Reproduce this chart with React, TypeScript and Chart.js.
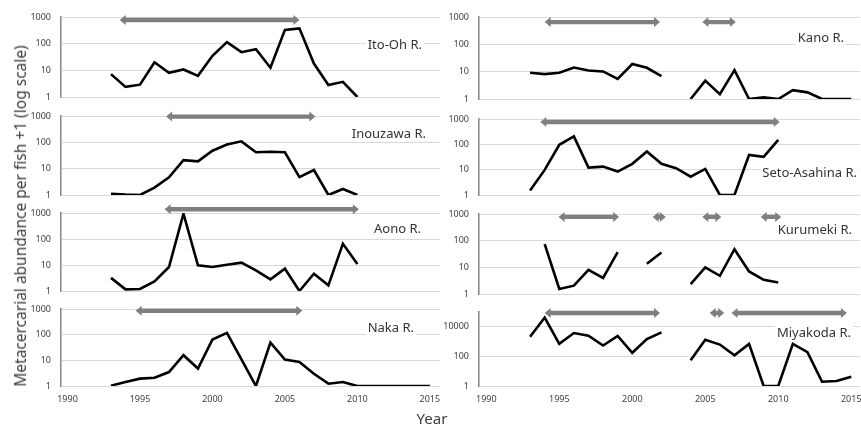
import React, { useEffect, useRef } from "react";
import { Chart, registerables } from "chart.js";

Chart.register(...registerables);

// ---------- data ----------
const YEARS = [1993, 1994, 1995, 1996, 1997, 1998, 1999, 2000, 2001, 2002, 2003, 2004, 2005, 2006, 2007, 2008, 2009, 2010, 2011, 2012, 2013, 2014, 2015];

const ITO_OH = [7.2, 2.4, 2.9, 20, 8.1, 10.8, 6.2, 35, 114, 48, 62, 12.5, 330, 375, 18, 2.8, 3.7, 1, null, null, null, null, null];
const INOUZAWA = [1.12, 1.03, 1.0, 1.9, 4.7, 21, 19, 48, 83, 109, 42, 44, 42, 4.8, 8.9, 1.0, 1.7, 1.0, null, null, null, null, null];
const AONO = [3.2, 1.16, 1.2, 2.35, 8.4, 940, 9.7, 8.4, 10.3, 12.3, 6.2, 2.8, 7.2, 1, 4.6, 1.65, 66, 11, null, null, null, null, null];
const NAKA = [1.03, 1.43, 1.94, 2.1, 3.5, 15.8, 4.8, 65, 118, 11, 1, 49, 10.7, 8.7, 3, 1.23, 1.43, 1, 1, 1, 1, 1, 1];
const KANO = [9.1, 8.1, 9.1, 14.2, 11.1, 10.2, 5.4, 19, 13.9, 6.9, null, 1, 4.7, 1.5, 11.4, 1, 1.15, 1, 2.1, 1.75, 1, 1, 1];
const SETO_ASAHINA = [1.5, 9.8, 96, 205, 12, 13.2, 8.4, 17, 52, 17, 11.4, 5.3, 10.7, 1, 1, 38, 32, 150, null, null, null, null, null];
const KURUMEKI = [null, 74, 1.54, 2.05, 8.1, 4, 37, null, 13.6, 36, null, 2.36, 9.9, 4.8, 48, 7, 3.4, 2.7, null, null, null, null, null];
const MIYAKODA = [2150, 42000, 700, 3800, 2500, 540, 2400, 175, 1500, 4200, null, 54, 1350, 630, 117, 700, 1, 1, 700, 195, 1.95, 2.15, 4.2];

// periods marked with grey double arrows (start year, end year)
const ITO_OH_ARROWS = [[1993.6, 2006.0]];
const INOUZAWA_ARROWS = [[1996.8, 2007.1]];
const AONO_ARROWS = [[1996.7, 2010.1]];
const NAKA_ARROWS = [[1994.7, 2006.2]];
const KANO_ARROWS = [[1994.0, 2001.9], [2004.8, 2007.1]];
const SETO_ASAHINA_ARROWS = [[1993.7, 2010.1]];
const KURUMEKI_ARROWS = [[1994.95, 1999.1], [2001.4, 2002.3], [2004.8, 2006.1], [2008.8, 2010.2]];
const MIYAKODA_ARROWS = [[1994.0, 2001.9], [2005.3, 2006.3], [2006.8, 2014.7]];

const RIVER_NAMES = ["Ito-Oh R.", "Inouzawa R.", "Aono R.", "Naka R.", "Kano R.", "Seto-Asahina R.", "Kurumeki R.", "Miyakoda R."];
const Y_TICKS = [1, 10, 100, 1000];
const Y_TICKS_MIYAKODA = [1, 100, 10000];
const X_TICKS = [1990, 1995, 2000, 2005, 2010, 2015];
const Y_TITLE = "Metacercarial abundance per fish +1 (log scale)";
const X_TITLE = "Year";

// ---------- layout (positions / styles only) ----------
const W = 861;
const H = 428;
const COLS = [
  { canvasLeft: 0, canvasWidth: 452, axisX: 61, right: 440, xMin: 1989.55, xMax: 2015.7 },
  { canvasLeft: 440, canvasWidth: 432, axisX: 479, right: 860, xMin: 1989.5, xMax: 2015.6 },
];

const PANELS = [
  { name: RIVER_NAMES[0], values: ITO_OH, arrows: ITO_OH_ARROWS, col: 0, top: 17, bottom: 97, yMax: 1000, yTicks: Y_TICKS, last: false, labelRight: 424, labelCy: 44, arrowLevel: 770 },
  { name: RIVER_NAMES[1], values: INOUZAWA, arrows: INOUZAWA_ARROWS, col: 0, top: 116, bottom: 195, yMax: 1000, yTicks: Y_TICKS, last: false, labelRight: 428, labelCy: 133, arrowLevel: 950 },
  { name: RIVER_NAMES[2], values: AONO, arrows: AONO_ARROWS, col: 0, top: 213, bottom: 291, yMax: 1000, yTicks: Y_TICKS, last: false, labelRight: 423, labelCy: 228, arrowLevel: 1400 },
  { name: RIVER_NAMES[3], values: NAKA, arrows: NAKA_ARROWS, col: 0, top: 309, bottom: 386, yMax: 1000, yTicks: Y_TICKS, last: true, labelRight: 416, labelCy: 327, arrowLevel: 850 },
  { name: RIVER_NAMES[4], values: KANO, arrows: KANO_ARROWS, col: 1, top: 17, bottom: 99, yMax: 1000, yTicks: Y_TICKS, last: false, labelRight: 846, labelCy: 37, arrowLevel: 650 },
  { name: RIVER_NAMES[5], values: SETO_ASAHINA, arrows: SETO_ASAHINA_ARROWS, col: 1, top: 119, bottom: 195, yMax: 1000, yTicks: Y_TICKS, last: false, labelRight: 859, labelCy: 172, arrowLevel: 760 },
  { name: RIVER_NAMES[6], values: KURUMEKI, arrows: KURUMEKI_ARROWS, col: 1, top: 214, bottom: 294, yMax: 1000, yTicks: Y_TICKS, last: false, labelRight: 854, labelCy: 229, arrowLevel: 780 },
  { name: RIVER_NAMES[7], values: MIYAKODA, arrows: MIYAKODA_ARROWS, col: 1, top: 312, bottom: 386, yMax: 100000, yTicks: Y_TICKS_MIYAKODA, last: true, labelRight: 853, labelCy: 332, arrowLevel: 85000 },
];

const PAD_TOP = 18;
const PAD_BOTTOM = 18;
const X_AXIS_H = 24;
const TICK_FONT = { family: "'Noto Sans', 'DejaVu Sans', sans-serif", size: 9 };
const TEXT_COLOR = "#404040";
const ARROW_COLOR = "#7f7f7f";

const arrowPlugin = {
  id: "periodArrows",
  afterDatasetsDraw(chart: any, _args: any, opts: any) {
    const { ctx } = chart;
    const xs = chart.scales.x;
    const ys = chart.scales.y;
    const arrows: number[][] = opts.arrows || [];
    const y = ys.getPixelForValue(opts.level);
    const bt = 2.2; // half body thickness
    const hh = 5; // half head height
    const hl = 6; // head length
    ctx.save();
    ctx.fillStyle = ARROW_COLOR;
    arrows.forEach(([a, b]) => {
      const x1 = xs.getPixelForValue(a);
      const x2 = xs.getPixelForValue(b);
      ctx.beginPath();
      ctx.moveTo(x1, y);
      ctx.lineTo(x1 + hl, y - hh);
      ctx.lineTo(x1 + hl, y - bt);
      ctx.lineTo(x2 - hl, y - bt);
      ctx.lineTo(x2 - hl, y - hh);
      ctx.lineTo(x2, y);
      ctx.lineTo(x2 - hl, y + hh);
      ctx.lineTo(x2 - hl, y + bt);
      ctx.lineTo(x1 + hl, y + bt);
      ctx.lineTo(x1 + hl, y + hh);
      ctx.closePath();
      ctx.fill();
    });
    ctx.restore();
  },
};

function Panel({ p }: { p: any }) {
  const ref = useRef<HTMLCanvasElement | null>(null);
  const col = COLS[p.col];
  const canvasTop = p.top - PAD_TOP;
  const canvasHeight = p.last
    ? p.bottom - p.top + PAD_TOP + X_AXIS_H + 2
    : p.bottom - p.top + PAD_TOP + PAD_BOTTOM;

  useEffect(() => {
    if (!ref.current) return;
    const chart = new Chart(ref.current, {
      type: "line",
      data: {
        datasets: [
          {
            data: YEARS.map((x, i) => ({ x, y: p.values[i] })),
            borderColor: "#000000",
            borderWidth: 2.6,
            pointRadius: 0,
            fill: false,
            tension: 0,
            spanGaps: false,
            borderJoinStyle: "miter",
          },
        ],
      },
      options: {
        animation: false,
        responsive: false,
        maintainAspectRatio: false,
        devicePixelRatio: 1,
        events: [],
        layout: {
          padding: {
            top: PAD_TOP,
            bottom: p.last ? 2 : PAD_BOTTOM,
            left: 0,
            right: col.canvasWidth - (col.right - col.canvasLeft),
          },
        },
        plugins: {
          legend: { display: false },
          tooltip: { enabled: false },
          title: { display: false },
          periodArrows: { arrows: p.arrows, level: p.arrowLevel },
        } as any,
        scales: {
          x: {
            type: "linear",
            display: p.last,
            min: col.xMin,
            max: col.xMax,
            afterBuildTicks: (s: any) => {
              s.ticks = X_TICKS.map((v) => ({ value: v }));
            },
            afterFit: (s: any) => {
              s.height = p.last ? X_AXIS_H : 0;
            },
            ticks: {
              font: TICK_FONT,
              color: TEXT_COLOR,
              padding: 8,
              maxRotation: 0,
              autoSkip: false,
              callback: (v: any) => String(v),
            },
            grid: { display: false, drawTicks: false },
            border: { display: false },
          },
          y: {
            type: "logarithmic",
            min: 1,
            max: p.yMax,
            afterBuildTicks: (s: any) => {
              s.ticks = p.yTicks.map((v: number) => ({ value: v }));
            },
            afterFit: (s: any) => {
              s.width = col.axisX - col.canvasLeft;
            },
            ticks: {
              font: TICK_FONT,
              color: TEXT_COLOR,
              padding: 10,
              autoSkip: false,
              callback: (v: any) => String(v),
            },
            grid: { color: "#d9d9d9", lineWidth: 1, drawTicks: false },
            border: { display: true, color: "#8c8c8c", width: 1.6 },
          },
        },
      } as any,
      plugins: [arrowPlugin],
    });
    return () => chart.destroy();
  }, []);

  return (
    <canvas
      ref={ref}
      width={col.canvasWidth}
      height={canvasHeight}
      style={{ position: "absolute", left: col.canvasLeft, top: canvasTop, width: col.canvasWidth, height: canvasHeight }}
    />
  );
}

function RiverLabel({ p }: { p: any }) {
  return (
    <div
      style={{
        position: "absolute",
        right: W - p.labelRight,
        top: p.labelCy - 8,
        height: 16,
        lineHeight: "16px",
        fontFamily: "'Noto Sans', sans-serif",
        fontSize: 13,
        color: "#333333",
        background: "#ffffff",
        padding: "0 2px",
        whiteSpace: "nowrap",
      }}
    >
      {p.name}
    </div>
  );
}

export default function App() {
  return (
    <div style={{ position: "fixed", left: 0, top: 0, width: W, height: H, background: "#ffffff", overflow: "hidden" }}>
      {PANELS.map((p, i) => (
        <Panel key={"c" + i} p={p} />
      ))}
      {PANELS.map((p, i) => (
        <RiverLabel key={"l" + i} p={p} />
      ))}
      <div
        style={{
          position: "absolute",
          left: 20,
          top: 216,
          transform: "translate(-50%, -50%) rotate(-90deg)",
          fontFamily: "'Noto Sans', sans-serif",
          fontSize: 15.5,
          color: TEXT_COLOR,
          whiteSpace: "nowrap",
        }}
      >
        {Y_TITLE}
      </div>
      <div
        style={{
          position: "absolute",
          left: 432,
          top: 418,
          transform: "translate(-50%, -50%)",
          fontFamily: "'Noto Sans', sans-serif",
          fontSize: 15,
          color: TEXT_COLOR,
          whiteSpace: "nowrap",
        }}
      >
        {X_TITLE}
      </div>
    </div>
  );
}
